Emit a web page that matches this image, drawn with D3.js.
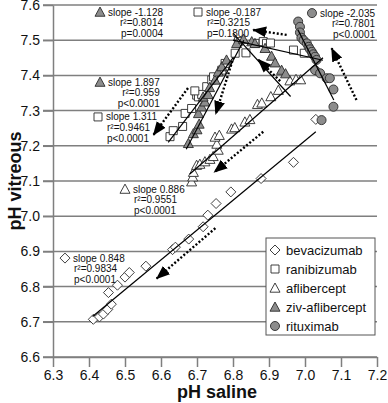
<!DOCTYPE html>
<html>
<head>
<meta charset="utf-8">
<script src="https://cdn.jsdelivr.net/npm/d3@7"></script>
<style>
  body { margin: 0; background: #fff; }
  text { font-family: Arial, "Liberation Sans", sans-serif; fill: #111; }
</style>
</head>
<body>
<div id="chart"></div>
<script>
// data: [pH saline, pH vitreous]
const bevacizumab = [
  [6.412, 6.707], [6.429, 6.714], [6.440, 6.722], [6.452, 6.735], [6.462, 6.750],
  [6.454, 6.783], [6.479, 6.804], [6.500, 6.827], [6.512, 6.840], [6.558, 6.858],
  [6.632, 6.905], [6.640, 6.912], [6.677, 6.935], [6.717, 6.970], [6.730, 7.003],
  [6.753, 7.036], [6.794, 7.069], [6.878, 7.107], [6.968, 7.153], [7.030, 7.275]
];
const ranibizumab = [
  [6.625, 7.226], [6.634, 7.243], [6.660, 7.255], [6.667, 7.292], [6.685, 7.306],
  [6.699, 7.344], [6.704, 7.339], [6.713, 7.346], [6.694, 7.356], [6.727, 7.368],
  [6.741, 7.387], [6.746, 7.396], [6.769, 7.415], [6.778, 7.434], [6.806, 7.463],
  [6.836, 7.464], [6.815, 7.496], [6.861, 7.491], [6.884, 7.496], [6.893, 7.491],
  [6.904, 7.492], [6.968, 7.472], [6.998, 7.463]
];
const aflibercept = [
  [6.685, 7.098], [6.688, 7.112], [6.690, 7.125], [6.699, 7.145], [6.708, 7.148],
  [6.722, 7.155], [6.736, 7.162], [6.745, 7.170], [6.759, 7.188], [6.755, 7.205],
  [6.750, 7.225], [6.762, 7.230], [6.796, 7.248], [6.805, 7.252], [6.833, 7.268],
  [6.847, 7.275], [6.868, 7.318], [6.880, 7.322], [6.905, 7.340], [6.926, 7.358],
  [6.958, 7.385], [6.975, 7.389], [6.988, 7.388]
];
const zivAflibercept = [
  [6.676, 7.207], [6.690, 7.235], [6.700, 7.246], [6.706, 7.262], [6.704, 7.292],
  [6.713, 7.311], [6.722, 7.325], [6.717, 7.339], [6.731, 7.346], [6.735, 7.366],
  [6.750, 7.387], [6.759, 7.410], [6.769, 7.425], [6.782, 7.444], [6.810, 7.491],
  [6.829, 7.503], [6.852, 7.496], [6.861, 7.491], [6.889, 7.477], [6.907, 7.455],
  [6.917, 7.436], [6.935, 7.415], [6.946, 7.405]
];
const rituximab = [
  [6.981, 7.553], [6.986, 7.538], [6.986, 7.522], [6.990, 7.507], [6.996, 7.500],
  [7.005, 7.491], [7.010, 7.481], [7.014, 7.474], [7.019, 7.467], [7.023, 7.460],
  [7.028, 7.453], [7.032, 7.444], [7.028, 7.415], [7.042, 7.406], [7.060, 7.392],
  [7.069, 7.392], [7.079, 7.360], [7.079, 7.311], [7.046, 7.273]
];

// regression lines [x0, y0, x1, y1]
const fitLines = [
  [6.41, 6.715, 7.03, 7.240],   // bevacizumab
  [6.68, 7.120, 7.05, 7.450],   // aflibercept
  [6.62, 7.210, 6.80, 7.450],   // ranibizumab rising
  [6.80, 7.500, 7.05, 7.443],   // ranibizumab flat
  [6.67, 7.190, 6.83, 7.500],   // ziv rising
  [6.80, 7.520, 6.96, 7.340],   // ziv falling
  [6.98, 7.530, 7.08, 7.330]    // rituximab
];

// dotted arrows [from x, from y, to x, to y]
const arrows = [
  [6.675, 7.364, 6.579, 7.231],
  [6.805, 7.463, 6.752, 7.290],
  [6.949, 7.515, 6.856, 7.529],
  [6.931, 7.384, 6.870, 7.445],
  [7.143, 7.330, 7.074, 7.477],
  [6.884, 7.240, 6.748, 7.125],
  [6.751, 6.966, 6.588, 6.823]
];

const seriesNames = ['bevacizumab', 'ranibizumab', 'aflibercept', 'ziv-aflibercept', 'rituximab'];
const seriesData = [bevacizumab, ranibizumab, aflibercept, zivAflibercept, rituximab];
const seriesShape = ['diamond', 'square', 'triangle', 'triangle', 'circle'];
const seriesFill = ['#fff', '#fff', '#fff', '#8c8c8c', '#8c8c8c'];

// stat notes: series index, anchor in data units, alignment of lines 2-3, text
const noteSeries = [3, 3, 1, 2, 0, 1, 4];
const noteAt = [
  [6.4306, 7.580], [6.4306, 7.381], [6.425, 7.282], [6.500, 7.077],
  [6.3333, 6.881], [6.7028, 7.580], [7.0194, 7.577]
];
const noteAlign = ['end', 'end', 'start', 'start', 'start', 'start', 'end'];
const noteText = [
  ['slope -1.128', 'r²=0.8014', 'p=0.0004'],
  ['slope 1.897', 'r²=0.959', 'p<0.0001'],
  ['slope 1.311', 'r²=0.9461', 'p<0.0001'],
  ['slope 0.886', 'r²=0.9551', 'p<0.0001'],
  ['slope 0.848', 'r²=0.9834', 'p<0.0001'],
  ['slope -0.187', 'r²=0.3215', 'p=0.1800'],
  ['slope -2.035', 'r²=0.7801', 'p<0.0001']
];

const xTicks = [6.3, 6.4, 6.5, 6.6, 6.7, 6.8, 6.9, 7.0, 7.1, 7.2];
const yTicks = [6.6, 6.7, 6.8, 6.9, 7.0, 7.1, 7.2, 7.3, 7.4, 7.5, 7.6];

const W = 388, H = 403;
const margin = { top: 5, right: 11, bottom: 46, left: 53 };
const gray = '#7f7f7f';

const svg = d3.select('#chart').append('svg')
  .attr('width', W).attr('height', H);

const x = d3.scaleLinear().domain([6.3, 7.2]).range([margin.left, W - margin.right]);
const y = d3.scaleLinear().domain([6.6, 7.6]).range([H - margin.bottom, margin.top]);

// marker shapes
function shapePath(shape) {
  if (shape === 'diamond') return 'M0,-5L5,0L0,5L-5,0Z';
  if (shape === 'square') return 'M-4,-4H4V4H-4Z';
  if (shape === 'triangle') return 'M0,-5L5,4.2H-5Z';
  return d3.symbol(d3.symbolCircle, 64)();
}

// grid
svg.append('g').selectAll('line')
  .data(yTicks)
  .enter().append('line')
  .attr('x1', margin.left - 10)
  .attr('x2', W - margin.right)
  .attr('y1', d => y(d))
  .attr('y2', d => y(d))
  .attr('stroke', gray)
  .attr('stroke-width', 1.5);

// y axis
const yAxis = svg.append('g')
  .attr('transform', `translate(${margin.left},0)`)
  .call(d3.axisLeft(y).tickValues(yTicks).tickFormat(d3.format('.1f')).tickSize(10).tickSizeOuter(0).tickPadding(3));
yAxis.select('.domain').attr('stroke', gray).attr('stroke-width', 1.5);
yAxis.selectAll('.tick line').attr('stroke', gray).attr('stroke-width', 1.5);
yAxis.selectAll('text').style('font-size', '14px').style('fill', '#111');

// x axis
const xAxis = svg.append('g')
  .attr('transform', `translate(0,${y(6.6)})`)
  .call(d3.axisBottom(x).tickValues(xTicks).tickFormat(d3.format('.1f')).tickSize(10).tickSizeOuter(0).tickPadding(3));
xAxis.select('.domain').attr('stroke', gray).attr('stroke-width', 1.5);
xAxis.selectAll('.tick line').attr('stroke', gray).attr('stroke-width', 1.5);
xAxis.selectAll('text').style('font-size', '14px').style('fill', '#111');

// axis titles
svg.append('text')
  .attr('transform', `translate(21,${(y(6.6) + y(7.6)) / 2}) rotate(-90)`)
  .attr('text-anchor', 'middle')
  .style('font-size', '18px').style('font-weight', 'bold')
  .text('pH vitreous');
svg.append('text')
  .attr('x', x(6.75) + 2)
  .attr('y', 398)
  .attr('text-anchor', 'middle')
  .style('font-size', '18px').style('font-weight', 'bold')
  .text('pH saline');

// dotted arrows
svg.append('defs').append('marker')
  .attr('id', 'head')
  .attr('viewBox', '0 -6 14 12')
  .attr('refX', 13).attr('refY', 0)
  .attr('markerUnits', 'userSpaceOnUse')
  .attr('markerWidth', 14).attr('markerHeight', 12)
  .attr('orient', 'auto')
  .append('path').attr('d', 'M0,-5.5L14,0L0,5.5Z').attr('fill', '#000');

svg.append('g').selectAll('line')
  .data(arrows)
  .enter().append('line')
  .attr('x1', d => x(d[0])).attr('y1', d => y(d[1]))
  .attr('x2', d => x(d[2])).attr('y2', d => y(d[3]))
  .attr('stroke', '#000')
  .attr('stroke-width', 2.4)
  .attr('stroke-dasharray', '2,2')
  .attr('marker-end', 'url(#head)');

// points
seriesData.forEach((pts, i) => {
  svg.append('g').selectAll('path')
    .data(pts)
    .enter().append('path')
    .attr('d', shapePath(seriesShape[i]))
    .attr('transform', d => `translate(${x(d[0])},${y(d[1])})`)
    .attr('fill', seriesFill[i])
    .attr('stroke', '#2a2a2a')
    .attr('stroke-width', 0.9);
});

// fit lines
svg.append('g').selectAll('line')
  .data(fitLines)
  .enter().append('line')
  .attr('x1', d => x(d[0])).attr('y1', d => y(d[1]))
  .attr('x2', d => x(d[2])).attr('y2', d => y(d[3]))
  .attr('stroke', '#000')
  .attr('stroke-width', 1.2);

// stat notes
noteText.forEach((lines, i) => {
  const cx = x(noteAt[i][0]), cy = y(noteAt[i][1]);
  const si = noteSeries[i];
  const g = svg.append('g');
  g.append('path')
    .attr('d', shapePath(seriesShape[si]))
    .attr('transform', `translate(${cx},${cy})`)
    .attr('fill', seriesFill[si])
    .attr('stroke', '#2a2a2a')
    .attr('stroke-width', 0.9);
  const first = g.append('text')
    .attr('x', cx + 8).attr('y', cy + 3.5)
    .style('font-size', '10px')
    .text(lines[0]);
  const endX = cx + 8 + first.node().getComputedTextLength();
  lines.slice(1).forEach((t, k) => {
    g.append('text')
      .attr('x', noteAlign[i] === 'end' ? endX : cx + 9)
      .attr('y', cy + 3.5 + 10.6 * (k + 1))
      .attr('text-anchor', noteAlign[i])
      .style('font-size', '10px')
      .text(t);
  });
});

// legend
const legend = svg.append('g').attr('transform', 'translate(266,238)');
legend.append('rect')
  .attr('width', 109).attr('height', 97)
  .attr('fill', '#fff')
  .attr('stroke', '#555')
  .attr('stroke-width', 1);
seriesNames.forEach((name, i) => {
  const ly = 12 + i * 19;
  legend.append('path')
    .attr('d', shapePath(seriesShape[i]))
    .attr('transform', `translate(9,${ly})`)
    .attr('fill', seriesFill[i])
    .attr('stroke', '#2a2a2a')
    .attr('stroke-width', 0.9);
  legend.append('text')
    .attr('x', 20).attr('y', ly + 4.5)
    .style('font-size', '13px')
    .text(name);
});
</script>
</body>
</html>
